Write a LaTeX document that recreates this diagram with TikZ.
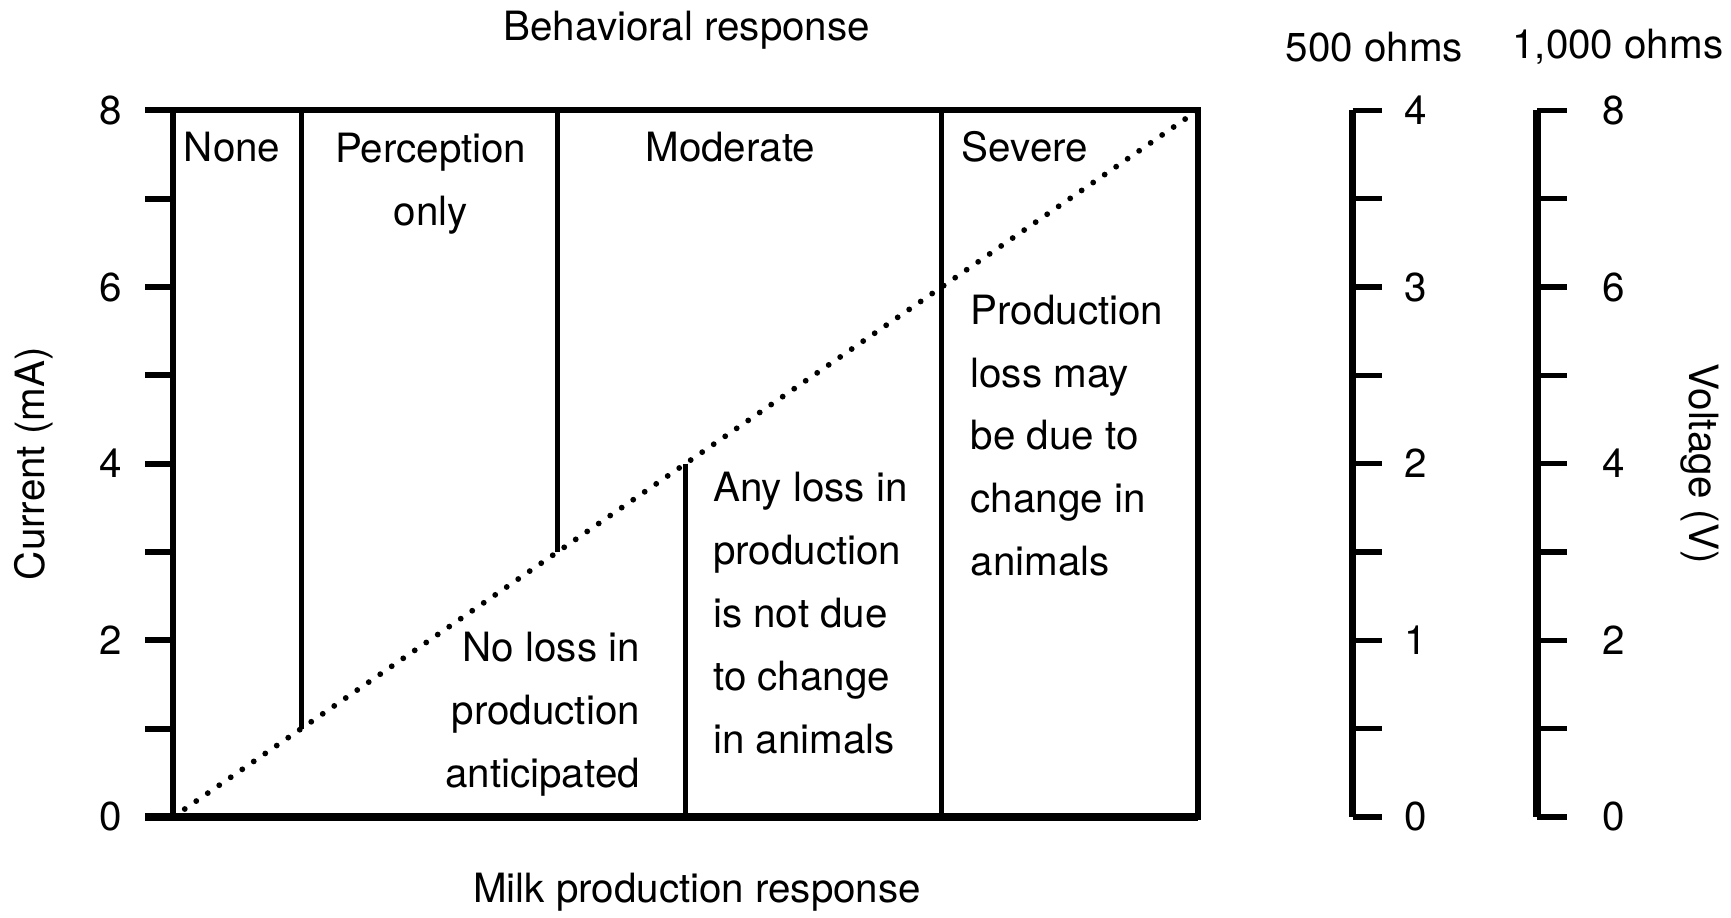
\documentclass[tikz,border=0pt]{standalone}
\usepackage{fontspec}
\setmainfont{TeX Gyre Heros}
\usepackage{tikz}
\usetikzlibrary{positioning}

\begin{document}
\begin{tikzpicture}[x=1.16cm, y=0.8cm,
  every node/.style={font=\fontsize{10.4}{16.2}\selectfont, inner sep=0pt},
  frame/.style={line width=1.6pt},
  divider/.style={line width=1.3pt},
  diagonal/.style={
    line width=1.5pt,
    dash pattern=on 0pt off 3.6pt,
    line cap=round
  },
  scaleaxis/.style={line width=1.9pt},
  scaletick/.style={line width=1.4pt},
  zonetext/.style={align=left, anchor=north west}
]
  \useasboundingbox (-1.353,-1.1375) rectangle (12.164,9.25);

  % Marco principal y eje de corriente
  \draw[frame] (0,0) rectangle (8,8);
  \draw[line width=2pt] (-0.22,0) -- (8,0);
  \foreach \y in {1,...,8}
    \draw[frame] (-0.22,\y) -- (0,\y);
  \foreach \y in {0,2,...,8}
    \node (cur\y) at (-0.49,\y) {\y};
  \node[rotate=90] (curtitle) at (-1.09,4) {Current (mA)};

  % Divisiones
  \draw[divider] (1,8) -- (1,1);
  \draw[divider] (3,8) -- (3,3);
  \draw[divider] (4,4) -- (4,0);
  \draw[divider] (6,8) -- (6,0);
  \draw[diagonal] (0,0) -- (8,8);

  % Respuesta de comportamiento
  \node (none) at (0.46,7.59) {None};
  \node[align=center, anchor=north] (perc) at (2.01,7.75) {Perception\\only};
  \node (moderate) at (4.35,7.59) {Moderate};
  \node (severe) at (6.65,7.59) {Severe};

  % Respuesta de produccion
  \node[align=right, anchor=north east] (noloss) at (3.65,2.1)
    {No loss in\\production\\anticipated};
  \node[zonetext] (anyloss) at (4.21,3.91)
    {Any loss in\\production\\is not due\\to change\\in animals};
  \node[zonetext] (mayloss) at (6.22,5.92)
    {Production\\loss may\\be due to\\change in\\animals};

  % Titulos
  \node (behav) at (4.01,8.91) {Behavioral response};
  \node (milk) at (4.09,-0.85) {Milk production response};

  % Escalas de voltaje
  \draw[scaleaxis] (9.21,0) -- (9.21,8);
  \draw[scaleaxis] (10.65,0) -- (10.65,8);
  \foreach \y in {0,...,8} {
    \draw[scaletick] (9.21,\y) -- ++(0.23,0);
    \draw[scaletick] (10.65,\y) -- ++(0.23,0);
  }
  \foreach \y/\v in {0/0,2/1,4/2,6/3,8/4}
    \node (lo\y) at (9.70,\y) {\v};
  \foreach \y/\v in {0/0,2/2,4/4,6/6,8/8}
    \node (hi\y) at (11.25,\y) {\v};
  \node (ohmlo) at (9.38,8.72) {500 ohms};
  \node (ohmhi) at (11.28,8.72) {1,000 ohms};
  \node[rotate=-90] (volttitle) at (11.92,4) {Voltage (V)};
\end{tikzpicture}
\end{document}
